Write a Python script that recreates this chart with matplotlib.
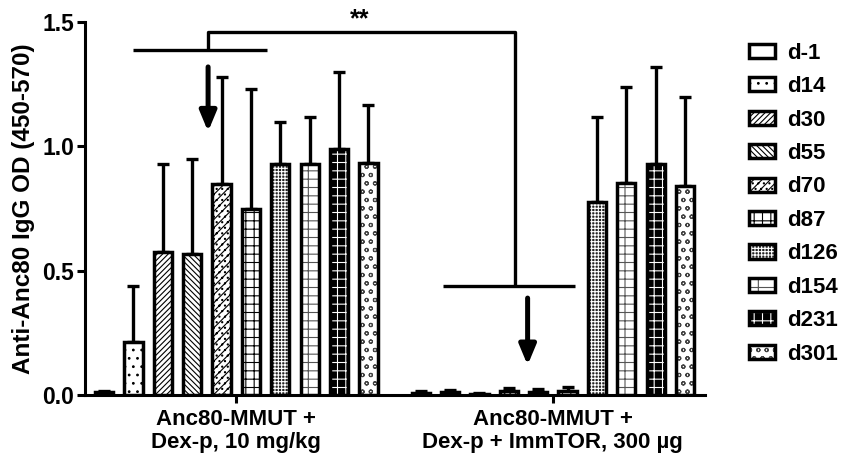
"""
Anti-Anc80 IgG 抗体滴度柱状图
两组处理（Dex-p 与 Dex-p + ImmTOR）在不同天数的 OD 值（均值 + 误差）
"""

import matplotlib
matplotlib.use("Agg")
import matplotlib.pyplot as plt
import numpy as np

# 数据
days = ["d-1", "d14", "d30", "d55", "d70", "d87", "d126", "d154", "d231", "d301"]
groups = ["Anc80-MMUT +\nDex-p, 10 mg/kg", "Anc80-MMUT +\nDex-p + ImmTOR, 300 \u00b5g"]
dex_mean = [0.012, 0.215, 0.575, 0.567, 0.85, 0.75, 0.93, 0.93, 0.99, 0.935]
dex_err = [0.006, 0.225, 0.355, 0.383, 0.43, 0.48, 0.17, 0.19, 0.31, 0.23]
immtor_mean = [0.010, 0.012, 0.006, 0.018, 0.014, 0.018, 0.776, 0.853, 0.93, 0.84]
immtor_err = [0.008, 0.008, 0.004, 0.012, 0.010, 0.016, 0.344, 0.387, 0.39, 0.36]

# 填充样式：花纹、底色、花纹颜色
hatches = ["", "..", "//////", "\\\\\\\\\\\\", "////...", "++", "+++++", "--|", "++", "oo"]
faces = ["white"] * 6 + ["#222222", "white", "black", "white"]
hatch_colors = ["black"] * 6 + ["white", "#555555", "white", "#444444"]

plt.rcParams["font.family"] = ["Liberation Sans", "DejaVu Sans"]
plt.rcParams["font.weight"] = "bold"
plt.rcParams["hatch.linewidth"] = 0.8


def draw_group(ax, x0, means, errs, width=0.62):
    """画一组 10 根柱子及上误差线；花纹层 + 黑色外框层"""
    x = x0 + np.arange(len(means))
    handles = []
    for i in range(len(means)):
        # 花纹层（边色即花纹颜色，线宽为 0）
        fill = ax.bar(x[i], means[i], width=width, color=faces[i], edgecolor=hatch_colors[i],
                      linewidth=0, hatch=hatches[i], zorder=3)
        # 外框层
        edge = ax.bar(x[i], means[i], width=width, facecolor="none", edgecolor="black",
                      linewidth=2.5, zorder=4)
        handles.append((fill[0], edge[0]))
    ax.errorbar(x, means, yerr=[np.zeros(len(errs)), errs], fmt="none",
                ecolor="black", elinewidth=2.4, capsize=4.5, capthick=2.4, zorder=2)
    return handles


fig, ax = plt.subplots(figsize=(8.47, 4.62), dpi=100)
plt.subplots_adjust(left=0.1004, right=0.832, bottom=0.145, top=0.952)

offset = 10.78
handles = draw_group(ax, 0, dex_mean, dex_err)
draw_group(ax, offset, immtor_mean, immtor_err)

# 坐标轴
ax.set_xlim(-0.65, 20.45)
ax.set_ylim(0, 1.5)
ax.set_yticks([0.0, 0.5, 1.0, 1.5])
ax.set_yticklabels(["0.0", "0.5", "1.0", "1.5"])
ax.set_xticks([4.5, offset + 4.5])
ax.set_xticklabels(groups, fontsize=16, fontweight="bold", linespacing=1.15)
ax.tick_params(axis="y", labelsize=16.5, width=2.2, length=6, pad=2)
ax.tick_params(axis="x", width=2.2, length=6, pad=4)
ax.set_ylabel("Anti-Anc80 IgG OD (450-570)", fontsize=17.5, fontweight="bold", labelpad=5)
for side in ["top", "right"]:
    ax.spines[side].set_visible(False)
for side in ["left", "bottom"]:
    ax.spines[side].set_linewidth(2.2)

# 显著性标记
lk = dict(color="black", lw=2.4, clip_on=False, solid_capstyle="butt")
ax.plot([0.99, 5.54], [1.387, 1.387], **lk)
ax.plot([3.54, 3.54, 13.98, 13.98], [1.387, 1.46, 1.46, 0.44], **lk)
ax.plot([11.53, 16.02], [0.44, 0.44], **lk)
ax.text(8.7, 1.51, "**", ha="center", va="center", fontsize=18, fontweight="bold")

# 箭头
ap = dict(arrowstyle="-|>,head_width=0.5,head_length=1.2", lw=3.6, color="black",
          shrinkA=0, shrinkB=0)
ax.annotate("", xy=(3.54, 1.06), xytext=(3.54, 1.32), arrowprops=ap, annotation_clip=False)
ax.annotate("", xy=(14.42, 0.12), xytext=(14.42, 0.39), arrowprops=ap, annotation_clip=False)

# 图例
fig.legend(handles=handles, labels=days, loc="upper left", bbox_to_anchor=(0.874, 0.927),
           frameon=False, prop={"size": 16, "weight": "bold"}, handlelength=1.15,
           handleheight=0.6, handletextpad=0.55, labelspacing=0.56, borderaxespad=0)

plt.savefig("out.png")
